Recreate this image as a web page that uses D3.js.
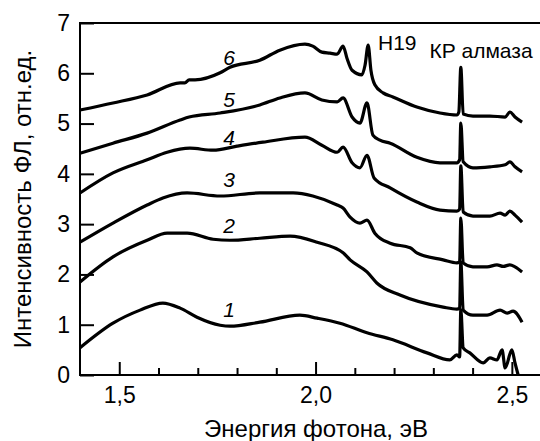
<!DOCTYPE html>
<html>
<head>
<meta charset="utf-8">
<script src="https://cdn.jsdelivr.net/npm/d3@7"></script>
<style>
  body { margin: 0; background: #fff; }
  svg { display: block; font-family: Arial, "Liberation Sans", sans-serif; }
</style>
</head>
<body>
<svg id="plChart" width="540" height="441"></svg>
<script>
// ticks
const xMajorTicks = [1.5, 2.0, 2.5];
const xMinorTicks = [1.6, 1.7, 1.8, 1.9, 2.1, 2.2, 2.3, 2.4];
const yTicks = [0, 1, 2, 3, 4, 5, 6, 7];

// spectra, [energy eV, intensity]
const spectrum1 = [
  [1.400, 0.54], [1.484, 1.03], [1.553, 1.29], [1.611, 1.43], [1.655, 1.33], [1.698, 1.15],
  [1.757, 0.99], [1.782, 0.97], [1.858, 1.05], [1.960, 1.19], [2.004, 1.13], [2.062, 1.03],
  [2.131, 0.84], [2.197, 0.70], [2.284, 0.44], [2.342, 0.30], [2.360, 0.40], [2.367, 0.36],
  [2.370, 1.30], [2.376, 0.54], [2.393, 0.44], [2.427, 0.24], [2.444, 0.34], [2.462, 0.30],
  [2.475, 0.50], [2.483, 0.14], [2.500, 0.50], [2.508, 0.24], [2.516, 0.00]
];
const spectrum2 = [
  [1.400, 1.85], [1.484, 2.35], [1.571, 2.68], [1.622, 2.82], [1.673, 2.82], [1.739, 2.70],
  [1.782, 2.68], [1.858, 2.72], [1.935, 2.76], [2.004, 2.64], [2.070, 2.43], [2.088, 2.29],
  [2.131, 2.05], [2.156, 1.83], [2.215, 1.59], [2.325, 1.35], [2.360, 1.31], [2.367, 1.33],
  [2.370, 2.25], [2.376, 1.29], [2.401, 1.19], [2.437, 1.19], [2.470, 1.29], [2.488, 1.23],
  [2.503, 1.27], [2.526, 1.05]
];
const spectrum3 = [
  [1.400, 2.64], [1.484, 3.02], [1.571, 3.38], [1.611, 3.52], [1.673, 3.62], [1.757, 3.56],
  [1.858, 3.62], [1.943, 3.62], [1.993, 3.56], [2.055, 3.38], [2.070, 3.32], [2.088, 3.14],
  [2.113, 3.02], [2.131, 3.08], [2.151, 2.82], [2.190, 2.62], [2.241, 2.53], [2.258, 2.43],
  [2.325, 2.29], [2.360, 2.23], [2.367, 2.25], [2.370, 3.12], [2.376, 2.23], [2.401, 2.15],
  [2.437, 2.15], [2.462, 2.19], [2.478, 2.16], [2.495, 2.19], [2.508, 2.15], [2.526, 2.05]
];
const spectrum4 = [
  [1.400, 3.62], [1.484, 4.02], [1.571, 4.28], [1.622, 4.43], [1.680, 4.51], [1.739, 4.47],
  [1.800, 4.55], [1.866, 4.63], [1.973, 4.73], [2.016, 4.57], [2.055, 4.43], [2.070, 4.53],
  [2.093, 4.22], [2.113, 4.12], [2.131, 4.37], [2.149, 3.92], [2.190, 3.72], [2.258, 3.44],
  [2.317, 3.28], [2.360, 3.26], [2.367, 3.30], [2.370, 4.16], [2.376, 3.24], [2.401, 3.16],
  [2.444, 3.16], [2.470, 3.22], [2.483, 3.18], [2.495, 3.26], [2.508, 3.18], [2.526, 3.04]
];
const spectrum5 = [
  [1.400, 4.41], [1.484, 4.61], [1.571, 4.81], [1.655, 5.07], [1.678, 5.13], [1.757, 5.21],
  [1.858, 5.37], [1.909, 5.51], [1.973, 5.61], [2.016, 5.47], [2.055, 5.43], [2.070, 5.51],
  [2.093, 5.13], [2.113, 5.01], [2.131, 5.41], [2.146, 4.77], [2.164, 4.67], [2.190, 4.61],
  [2.258, 4.33], [2.317, 4.22], [2.360, 4.22], [2.367, 4.28], [2.370, 5.01], [2.376, 4.24],
  [2.401, 4.12], [2.444, 4.14], [2.483, 4.18], [2.495, 4.24], [2.508, 4.14], [2.526, 4.04]
];
const spectrum6 = [
  [1.400, 5.27], [1.484, 5.41], [1.571, 5.57], [1.655, 5.81], [1.667, 5.81], [1.678, 5.87],
  [1.693, 5.87], [1.757, 6.01], [1.782, 6.12], [1.858, 6.26], [1.909, 6.46], [1.973, 6.58],
  [1.993, 6.54], [2.016, 6.42], [2.037, 6.40], [2.055, 6.38], [2.070, 6.54], [2.080, 6.30],
  [2.093, 6.06], [2.118, 5.97], [2.126, 6.16], [2.134, 6.56], [2.141, 6.06], [2.151, 5.77],
  [2.172, 5.61], [2.197, 5.53], [2.258, 5.33], [2.317, 5.21], [2.360, 5.17], [2.365, 5.23],
  [2.370, 6.12], [2.376, 5.19], [2.401, 5.15], [2.444, 5.15], [2.483, 5.13], [2.495, 5.23],
  [2.508, 5.13], [2.526, 5.03]
];

// curve numbers and peak names
const curveLabels = [
  { text: "1", e: 1.78, i: 1.15 },
  { text: "2", e: 1.78, i: 2.82 },
  { text: "3", e: 1.78, i: 3.74 },
  { text: "4", e: 1.78, i: 4.57 },
  { text: "5", e: 1.78, i: 5.33 },
  { text: "6", e: 1.78, i: 6.16 }
];
const peakLabels = [
  { text: "H19", e: 2.159, i: 6.46 },
  { text: "КР алмаза", e: 2.290, i: 6.30 }
];

const spectra = [spectrum1, spectrum2, spectrum3, spectrum4, spectrum5, spectrum6];

const svg = d3.select("#plChart");
const W = +svg.attr("width");
const margin = { top: 23, left: 80, bottom: 66 };
const plotBottom = +svg.attr("height") - margin.bottom;

// x runs past the right edge of the picture, the frame is cut there
const x = d3.scaleLinear().domain([1.4, 2.6]).range([margin.left, margin.left + 1.2 * 392.6]);
const y = d3.scaleLinear().domain([0, 7]).range([plotBottom, margin.top]);

const commaFmt = d => d3.format(".1f")(d).replace(".", ",");

// minor x ticks
svg.append("g")
  .attr("transform", `translate(0,${plotBottom})`)
  .call(d3.axisBottom(x).tickValues(xMinorTicks).tickSize(-7).tickFormat(""))
  .call(g => g.select(".domain").remove())
  .call(g => g.selectAll("line").attr("stroke-width", 2));

// major x ticks
svg.append("g")
  .attr("transform", `translate(0,${plotBottom})`)
  .call(d3.axisBottom(x).tickValues(xMajorTicks).tickSize(-13).tickPadding(12).tickFormat(commaFmt))
  .call(g => g.select(".domain").remove())
  .call(g => g.selectAll("line").attr("stroke-width", 2))
  .call(g => g.selectAll("text").attr("font-size", 23).attr("font-family", "Arial, 'Liberation Sans', sans-serif"));

// y axis
svg.append("g")
  .attr("transform", `translate(${margin.left},0)`)
  .call(d3.axisLeft(y).tickValues(yTicks).tickSize(-14).tickPadding(10).tickFormat(d3.format("d")))
  .call(g => g.select(".domain").remove())
  .call(g => g.selectAll("line").attr("stroke-width", 2))
  .call(g => g.selectAll("text").attr("font-size", 23).attr("font-family", "Arial, 'Liberation Sans', sans-serif"));

// frame: left, top, bottom (no right side in the picture)
const frame = svg.append("g").attr("stroke", "#000").attr("stroke-width", 2);
frame.append("line").attr("x1", margin.left).attr("x2", margin.left)
  .attr("y1", y(7) - 1).attr("y2", y(0) + 1);
frame.append("line").attr("x1", margin.left).attr("x2", W).attr("y1", y(7)).attr("y2", y(7));
frame.append("line").attr("x1", margin.left).attr("x2", W).attr("y1", y(0)).attr("y2", y(0));

const line = d3.line()
  .x(d => x(d[0]))
  .y(d => y(d[1]))
  .curve(d3.curveMonotoneX);

svg.append("g")
  .selectAll("path")
  .data(spectra)
  .join("path")
  .attr("d", line)
  .attr("fill", "none")
  .attr("stroke", "#000")
  .attr("stroke-width", 3.2)
  .attr("stroke-linejoin", "round");

svg.append("g")
  .selectAll("text")
  .data(curveLabels)
  .join("text")
  .attr("x", d => x(d.e))
  .attr("y", d => y(d.i))
  .attr("text-anchor", "middle")
  .attr("font-size", 21)
  .attr("font-style", "italic")
  .text(d => d.text);

svg.append("g")
  .selectAll("text")
  .data(peakLabels)
  .join("text")
  .attr("x", d => x(d.e))
  .attr("y", d => y(d.i))
  .attr("font-size", 21)
  .text(d => d.text);

// axis titles
svg.append("text")
  .attr("x", 316)
  .attr("y", 437)
  .attr("text-anchor", "middle")
  .attr("font-size", 24)
  .text("Энергия фотона, эВ");

svg.append("text")
  .attr("transform", "rotate(-90)")
  .attr("x", -(y(0) + y(7)) / 2)
  .attr("y", 31)
  .attr("text-anchor", "middle")
  .attr("font-size", 24)
  .text("Интенсивность ФЛ, отн.ед.");
</script>
</body>
</html>
